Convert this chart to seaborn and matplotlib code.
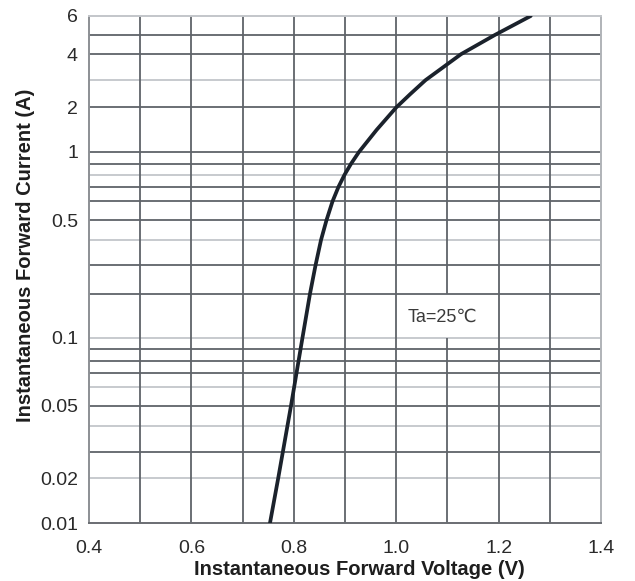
import numpy as np
import pandas as pd
import matplotlib
matplotlib.use("Agg")
import matplotlib.pyplot as plt
import seaborn as sns
from matplotlib.ticker import FixedLocator, FixedFormatter, NullLocator

# ---------------- data ----------------
voltage = [0.7535, 0.7695, 0.7945, 0.817, 0.8316, 0.8424, 0.8531, 0.8639,
           0.8756, 0.8873, 0.899, 0.9117, 0.9273, 0.9617, 1.0, 1.0275,
           1.0572, 1.1266, 1.193, 1.2627]
current = [0.01, 0.02, 0.05, 0.1, 0.2, 0.3, 0.4, 0.5,
           0.6, 0.7, 0.8, 0.9, 1.0, 1.41, 2.0, 2.44,
           3.0, 4.0, 5.0, 6.0]

x_ticks = [0.4, 0.6, 0.8, 1.0, 1.2, 1.4]
x_tick_labels = ["0.4", "0.6", "0.8", "1.0", "1.2", "1.4"]
y_ticks = [0.01, 0.02, 0.05, 0.1, 0.5, 1, 2, 4, 6]
y_tick_labels = ["0.01", "0.02", "0.05", "0.1", "0.5", "1", "2", "4", "6"]

# grid values of the (hand-drawn, distorted log) current axis and their
# relative heights on the original sheet (layout of the axis, not data)
grid_vals = [0.01, 0.02, 0.03, 0.04, 0.05, 0.06, 0.07, 0.08, 0.09,
             0.1, 0.2, 0.3, 0.4, 0.5, 0.6, 0.7, 0.8, 0.9,
             1, 2, 3, 4, 5, 6]
grid_pos = [523, 478.3, 451.7, 426, 405.8, 387.3, 372.7, 361, 349,
            337.5, 293.7, 265.3, 240, 220, 201.3, 186.7, 174.7, 163.7,
            151.8, 107.3, 80, 54, 34.7, 15.8]
light_lines = [0.02, 0.04, 0.06, 0.1, 0.4, 0.8, 3]

# ---------------- scale ----------------
lg = np.log10(np.array(grid_vals, dtype=float))
hh = 523.0 - np.array(grid_pos, dtype=float)
slope = 186.0
lg_ext = np.concatenate([[lg[0] - 20], lg, [lg[-1] + 20]])
hh_ext = np.concatenate([[hh[0] - 20 * slope], hh, [hh[-1] + 20 * slope]])


def fwd(v):
    v = np.asarray(v, dtype=float)
    with np.errstate(divide="ignore", invalid="ignore"):
        l = np.log10(np.where(v > 0, v, 1e-30))
    return np.interp(l, lg_ext, hh_ext)


def inv(h):
    h = np.asarray(h, dtype=float)
    return 10 ** np.interp(h, hh_ext, lg_ext)


# ---------------- figure ----------------
sns.set_theme(style="white")
plt.rcParams["font.family"] = ["Liberation Sans", "DejaVu Sans"]

fig = plt.figure(figsize=(6.35, 5.81), dpi=100)
ax = fig.add_axes([89 / 635, 1 - 523 / 581, 512 / 635, 507 / 581])
ax.set_yscale("function", functions=(fwd, inv))

df = pd.DataFrame({"V": voltage, "I": current})

dark = "#5f6369"
light = "#c3c6ca"

for v in grid_vals[1:-1]:
    ax.axhline(v, color=light if v in light_lines else dark, lw=1.3, zorder=1)
for xv in [0.5, 0.6, 0.7, 0.8, 0.9, 1.0, 1.2, 1.3]:
    ax.axvline(xv, color=dark, lw=1.3, zorder=1)
# the 1.1 line is interrupted by the annotation cell
ax.vlines(1.1, 0.01, 0.1, color=dark, lw=1.3, zorder=1)
ax.vlines(1.1, 0.2, 6, color=dark, lw=1.3, zorder=1)

sns.lineplot(data=df, x="V", y="I", ax=ax, color="#1b222c", lw=2.7,
             sort=False, estimator=None, zorder=3)

ax.set_xlim(0.4, 1.4)
ax.set_ylim(0.01, 6)

ax.xaxis.set_major_locator(FixedLocator(x_ticks))
ax.xaxis.set_major_formatter(FixedFormatter(x_tick_labels))
ax.yaxis.set_major_locator(FixedLocator(y_ticks))
ax.yaxis.set_major_formatter(FixedFormatter(y_tick_labels))
ax.xaxis.set_minor_locator(NullLocator())
ax.yaxis.set_minor_locator(NullLocator())
ax.tick_params(axis="both", length=0, labelsize=14, labelcolor="#2a2a2a")
ax.tick_params(axis="x", pad=12)
ax.tick_params(axis="y", pad=8)

ax.set_xlabel("Instantaneous Forward Voltage (V)", fontsize=14.5,
              fontweight="bold", color="#1e1e1e")
ax.set_ylabel("Instantaneous Forward Current (A)", fontsize=14.5,
              fontweight="bold", color="#1e1e1e")
ax.xaxis.set_label_coords((359 - 89) / 512, (523 - 560) / 507)
ax.yaxis.set_label_coords((35 - 89) / 512, (523 - 255) / 507)

ax.text(1.091, 0.139, "Ta=25℃", ha="center", va="center", fontsize=13,
        color="#3a3a3a", zorder=4)

for side, col in [("left", "#8c8f94"), ("bottom", "#6a6d72"),
                  ("top", "#c3c6ca"), ("right", "#b0b3b8")]:
    ax.spines[side].set_color(col)
    ax.spines[side].set_linewidth(1.4)
    ax.spines[side].set_visible(True)

ax.set_facecolor("white")
fig.savefig("out.png", dpi=100, facecolor="white")
